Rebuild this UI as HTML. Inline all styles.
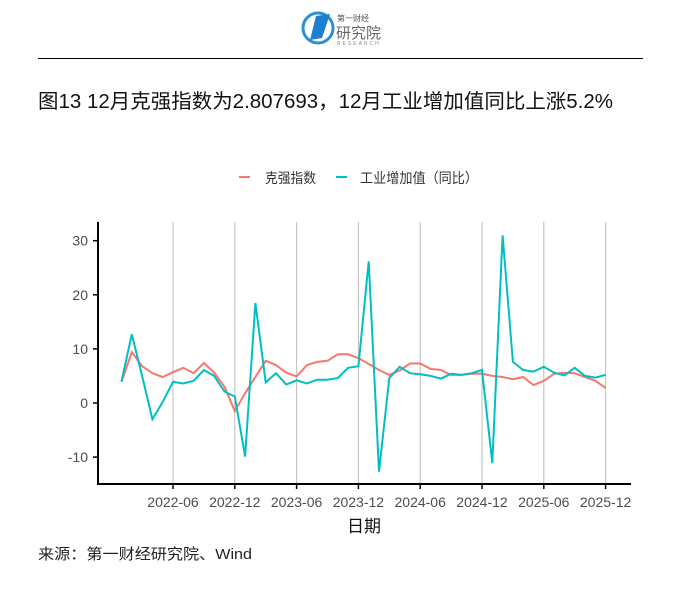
<!DOCTYPE html>
<html><head><meta charset="utf-8"><style>
body{margin:0;background:#fff;width:692px;height:593px;overflow:hidden}
svg text{font-family:"Liberation Sans","Noto Sans CJK SC",sans-serif}
</style></head><body>
<svg id="s" width="692" height="593" xmlns="http://www.w3.org/2000/svg">
<rect width="692" height="593" fill="#fff"/>
<circle cx="318" cy="28" r="15" fill="none" stroke="#2b8fd6" stroke-width="3"/>
<polygon points="310,40 316,16 330,14 322,38" fill="#1f7fcf"/>
<text x="337" y="21" font-size="8" fill="#555">第一财经</text>
<text x="336" y="38" font-size="15" fill="#666">研究院</text>
<text x="337" y="45" font-size="5" fill="#888" letter-spacing="2">RESEARCH</text>
<line x1="38" y1="58.5" x2="643" y2="58.5" stroke="#000" stroke-width="1"/>
<text x="38" y="108" font-size="20" fill="#111" textLength="575" lengthAdjust="spacingAndGlyphs">图13 12月克强指数为2.807693，12月工业增加值同比上涨5.2%</text>
<line x1="239" y1="177" x2="250" y2="177" stroke="#F8766D" stroke-width="2"/>
<text x="265" y="183" font-size="14" fill="#333" textLength="51" lengthAdjust="spacingAndGlyphs">克强指数</text>
<line x1="336" y1="177" x2="347" y2="177" stroke="#00BFC4" stroke-width="2"/>
<text x="360" y="183" font-size="14" fill="#333" textLength="118" lengthAdjust="spacingAndGlyphs">工业增加值（同比）</text>
<g id="grid" stroke="#bdbdbd" stroke-width="1"></g>
<g id="ax"></g>
<line x1="98" y1="222" x2="98" y2="485" stroke="#000" stroke-width="2"/>
<line x1="97" y1="484" x2="631" y2="484" stroke="#000" stroke-width="2"/>
<polyline id="r" fill="none" stroke="#F8766D" stroke-width="2"/>
<polyline id="c" fill="none" stroke="#00BFC4" stroke-width="2"/>
<text x="364" y="532" font-size="17" fill="#111" text-anchor="middle">日期</text>
<text x="38" y="559" font-size="15" fill="#222" textLength="214" lengthAdjust="spacingAndGlyphs">来源：第一财经研究院、Wind</text>
</svg>
<script>
var red=[3.9,9.4,6.8,5.5,4.8,5.7,6.5,5.5,7.4,5.6,3.0,-1.5,1.8,4.8,7.8,7.0,5.6,4.9,7.0,7.6,7.8,9.0,9.0,8.3,7.2,6.1,5.2,6.0,7.3,7.3,6.3,6.1,5.2,5.2,5.4,5.4,5.0,4.8,4.4,4.8,3.3,4.1,5.4,5.6,5.5,4.8,4.1,2.8];
var cy=[4.0,12.7,5,-3.0,0.2,3.9,3.6,4.1,6.1,5.0,2.1,1.2,-9.9,18.5,3.8,5.5,3.4,4.2,3.6,4.3,4.3,4.6,6.5,6.8,26.2,-12.7,4.6,6.7,5.5,5.3,5.0,4.5,5.4,5.2,5.5,6.1,-11.1,31.0,7.6,6.1,5.8,6.7,5.6,5.1,6.5,5.0,4.7,5.2];
function X(i){return 121.5+10.3*i}function Y(v){return 403-5.41*v}
function pts(a){return a.map(function(v,i){return X(i).toFixed(1)+","+Y(v).toFixed(1)}).join(" ")}
document.getElementById('r').setAttribute('points',pts(red));
document.getElementById('c').setAttribute('points',pts(cy));
var ns="http://www.w3.org/2000/svg",g=document.getElementById('grid'),ax=document.getElementById('ax');
function el(p,t,a,txt){var e=document.createElementNS(ns,t);for(var k in a)e.setAttribute(k,a[k]);if(txt)e.textContent=txt;p.appendChild(e)}
var labs=["2022-06","2022-12","2023-06","2023-12","2024-06","2024-12","2025-06","2025-12"];
labs.forEach(function(l,j){var x=X(5+6*j);el(g,'line',{x1:x,y1:222,x2:x,y2:484});
el(ax,'line',{x1:x,y1:484,x2:x,y2:489,stroke:'#000','stroke-width':1.5});
el(ax,'text',{x:x,y:507,'font-size':14,fill:'#4d4d4d','text-anchor':'middle'},l)});
[30,20,10,0,-10].forEach(function(v){var y=Y(v);el(ax,'line',{x1:93,y1:y,x2:98,y2:y,stroke:'#000','stroke-width':1.5});
el(ax,'text',{x:88,y:y+5,'font-size':14,fill:'#4d4d4d','text-anchor':'end'},String(v))});
</script>
</body></html>
